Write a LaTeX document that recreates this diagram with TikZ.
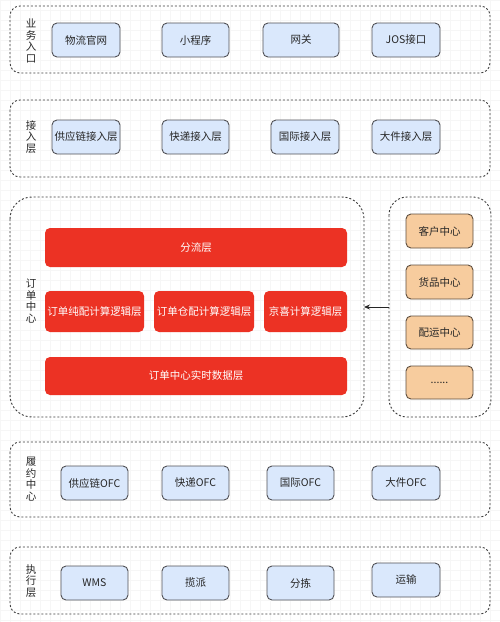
\documentclass[tikz,border=0pt]{standalone}
\usepackage{fontspec}
\setmainfont{Noto Sans CJK SC}
\usetikzlibrary{arrows.meta}
\definecolor{bluefill}{RGB}{218,232,252}
\definecolor{boxline}{RGB}{80,80,85}
\definecolor{orangefill}{RGB}{247,204,158}
\definecolor{orangeline}{RGB}{95,78,62}
\definecolor{redfill}{RGB}{236,50,36}
\definecolor{gridc}{RGB}{246,246,246}
\definecolor{dashc}{RGB}{60,60,60}
\tikzset{
  container/.style={draw=dashc, line width=0.9pt, dash pattern=on 2pt off 2pt, rounded corners=10pt},
  bluebox/.style={draw=boxline, fill=bluefill, line width=0.9pt, rounded corners=5pt, font=\fontsize{10.5}{12}\selectfont, text=black!85},
  orangebox/.style={draw=orangeline, fill=orangefill, line width=0.9pt, rounded corners=5pt, font=\fontsize{10.5}{12}\selectfont, text=black!85},
  redbox/.style={fill=redfill, rounded corners=5pt, font=\fontsize{10.5}{12}\selectfont, text=white},
  sidelabel/.style={align=center, font=\fontsize{10.5}{11.5}\selectfont, text=black!85, inner sep=0pt},
}
\newcommand{\bx}[6]{\node[#1, minimum width=#4pt-#2pt, minimum height=#5pt-#3pt, inner sep=0pt] (#6) at ({(#2+#4)/2}, {(#3+#5)/2})}
\begin{document}
\begin{tikzpicture}[x=1pt, y=-1pt]
\useasboundingbox (0,0) rectangle (500,622);
\fill[white] (0,0) rectangle (500,622);
\draw[gridc, line width=0.5pt, step=10pt] (0,0) grid (500,622);
% containers
\draw[container] (10,6) rectangle (490,73);
\draw[container] (10,100) rectangle (490,177);
\draw[container, rounded corners=22pt] (10,197) rectangle (364,417);
\draw[container, rounded corners=18pt] (389,197) rectangle (491,417);
\draw[container] (10,442) rectangle (490,517);
\draw[container] (10,547) rectangle (490,614);
% side labels
\node[sidelabel] (l1) at (31,41) {业\\务\\入\\口};
\node[sidelabel] (l2) at (31,137) {接\\入\\层};
\node[sidelabel] (l3) at (31,301) {订\\单\\中\\心};
\node[sidelabel] (l4) at (31,479) {履\\约\\中\\心};
\node[sidelabel] (l5) at (31,581) {执\\行\\层};
% row 1
\bx{bluebox}{52}{23}{120}{57}{a1} {物流官网};
\bx{bluebox}{162}{23}{229}{57}{a2} {小程序};
\bx{bluebox}{263}{23}{339}{57}{a3} {网关};
\bx{bluebox}{372}{23}{440}{57}{a4} {JOS接口};
% row 2
\bx{bluebox}{52}{120}{120}{154}{b1} {供应链接入层};
\bx{bluebox}{162}{120}{229}{154}{b2} {快递接入层};
\bx{bluebox}{271}{120}{339}{154}{b3} {国际接入层};
\bx{bluebox}{372}{120}{440}{154}{b4} {大件接入层};
% order center
\bx{redbox}{45}{228}{347}{267}{c1} {分流层};
\bx{redbox}{45}{291}{144}{332}{c2} {订单纯配计算逻辑层};
\bx{redbox}{154}{291}{254}{332}{c3} {订单仓配计算逻辑层};
\bx{redbox}{264}{291}{347}{332}{c4} {京喜计算逻辑层};
\bx{redbox}{45}{357}{347}{395}{c5} {订单中心实时数据层};
% right side
\bx{orangebox}{406}{214}{473}{248}{d1} {客户中心};
\bx{orangebox}{406}{265}{473}{299}{d2} {货品中心};
\bx{orangebox}{406}{316}{473}{349}{d3} {配运中心};
\bx{orangebox}{406}{366}{473}{399}{d4} {......};
% arrow
\coordinate (arS) at (389,307);
\coordinate (arE) at (364,307);
\draw[-{Stealth[length=6pt,width=5pt]}, line width=0.8pt, black!85] (arS) -- (arE);
% row 4
\bx{bluebox}{61}{466}{128}{500}{e1} {供应链OFC};
\bx{bluebox}{162}{466}{229}{500}{e2} {快递OFC};
\bx{bluebox}{267}{466}{334}{500}{e3} {国际OFC};
\bx{bluebox}{372}{466}{440}{500}{e4} {大件OFC};
% row 5
\bx{bluebox}{61}{566}{128}{600}{f1} {WMS};
\bx{bluebox}{162}{566}{229}{600}{f2} {揽派};
\bx{bluebox}{267}{566}{334}{600}{f3} {分拣};
\bx{bluebox}{372}{563}{440}{597}{f4} {运输};
\end{tikzpicture}
\end{document}
